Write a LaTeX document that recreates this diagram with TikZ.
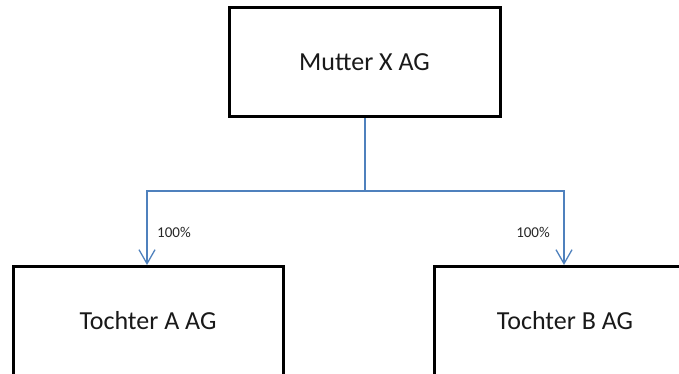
\documentclass[tikz,border=0pt]{standalone}
\usepackage{fontspec}
\setmainfont{Carlito}
\usetikzlibrary{arrows.meta}
\definecolor{linkblue}{RGB}{79,129,189}
\tikzset{
  orgbox/.style={draw=black, line width=3pt, fill=white, minimum height=109pt, inner sep=0pt, font=\fontsize{26}{30}\selectfont, text=black!90},
  link/.style={draw=linkblue, line width=1.3pt},
  linkarrow/.style={link, -{Straight Barb[length=14pt,width=16pt,line width=1.3pt]}},
  pct/.style={font=\fontsize{15}{18}\selectfont, text=black!85, inner sep=0pt}
}
\begin{document}
\begin{tikzpicture}[x=1pt,y=-1pt]
\useasboundingbox (0,0) rectangle (679,374);
\clip (0,0) rectangle (679,374);
\node[orgbox, minimum width=271pt] (top) at (364.5,62.5) {Mutter X AG};
\node[orgbox, minimum width=270pt] (left) at (148,320.5) {Tochter A AG};
\node[orgbox, minimum width=262pt] (right) at (565,320.5) {Tochter B AG};
\coordinate (bend) at (365,191);
\coordinate (lin) at (147,265);
\coordinate (rin) at (564,265);
\draw[link] (top.south -| bend) -- (bend);
\draw[linkarrow] (bend) -| (lin);
\draw[linkarrow] (bend) -| (rin);
\node[pct, anchor=west] (lp) at (157,232) {100\%};
\node[pct, anchor=east] (rp) at (550,232) {100\%};
\end{tikzpicture}
\end{document}
